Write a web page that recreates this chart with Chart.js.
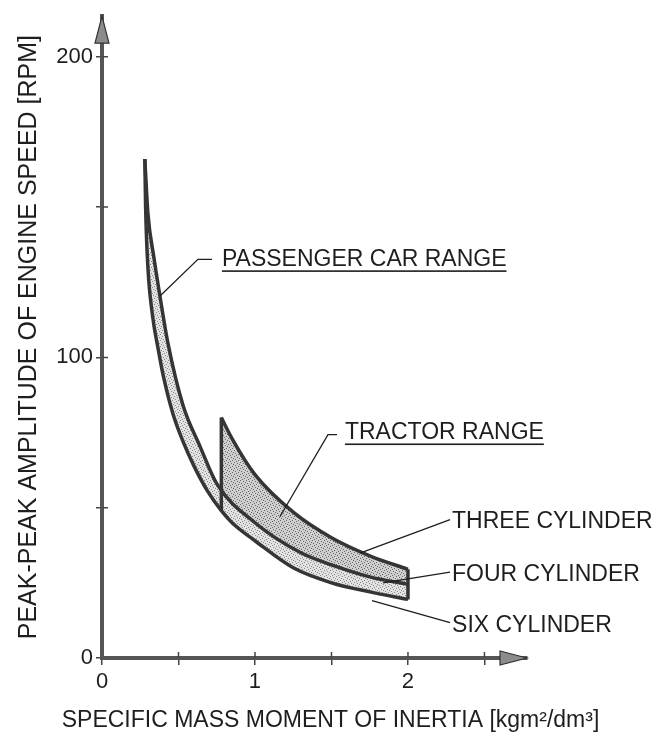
<!DOCTYPE html>
<html>
<head>
<meta charset="utf-8">
<script src="https://cdn.jsdelivr.net/npm/chart.js@4.4.1/dist/chart.umd.min.js"></script>
<style>
  html, body { margin: 0; padding: 0; background: #fff; }
</style>
</head>
<body>
<canvas id="inertiaChart" width="666" height="735"></canvas>
<script>
// upper edge of the passenger car band, runs on into the tractor band (four cylinder)
const fourCylX = [0.28, 0.30, 0.34, 0.38, 0.43, 0.53, 0.64, 0.75, 1.0, 1.3, 1.5, 1.75, 2.0];
const fourCylY = [166, 148, 133, 120, 105, 84, 70.5, 58, 45, 35, 31, 27, 24.5];

// lower edge of both bands (six cylinder)
const sixCylX = [0.28, 0.285, 0.30, 0.33, 0.37, 0.40, 0.465, 0.53, 0.60, 0.69, 0.78, 0.85, 1.0, 1.25, 1.5, 1.75, 2.0];
const sixCylY = [166, 150, 130, 114, 102, 94, 81, 72, 64, 55.5, 49, 45, 39, 30, 25, 22, 19.5];

// upper edge of the tractor band (three cylinder)
const threeCylX = [0.78, 0.85, 1.0, 1.25, 1.5, 1.75, 2.0];
const threeCylY = [80, 73, 61, 48.5, 40, 34, 29.5];

// axis ticks
const xTickLabels = [0, 1, 2];
const yTickLabels = [0, 100, 200];

// call-out texts with their anchor (data units) and leader lines
const labelText = ['PASSENGER CAR RANGE', 'TRACTOR RANGE', 'THREE CYLINDER', 'FOUR CYLINDER', 'SIX CYLINDER'];
const labelAt = [[0.784, 130.3], [1.588, 72.7], [2.288, 43.1], [2.288, 25.7], [2.288, 8.55]];
const underlined = [true, true, false, false, false];
const leaders = [
  [[0.379, 120.4], [0.627, 132.6], [0.719, 132.6]],
  [[1.163, 47.0], [1.477, 74.3], [1.536, 74.3]],
  [[1.686, 34.9], [2.275, 46.05]],
  [[1.837, 25.0], [2.0, 26.3], [2.275, 28.6]],
  [[1.765, 19.1], [2.275, 11.8]]
];

const pts = (xs, ys) => xs.map((v, i) => ({ x: v, y: ys[i] }));

// tractor band is closed at the bottom by the six cylinder curve
const tractorBottom = pts(sixCylX, sixCylY).filter(p => p.x >= threeCylX[0]);
const firstTop = { x: threeCylX[0], y: threeCylY[0] };
const lastTop = { x: threeCylX[threeCylX.length - 1], y: threeCylY[threeCylY.length - 1] };

const FONT = '"Liberation Sans", Arial, sans-serif';
const INK = '#1e1e1e';
const CURVE = '#353535';

// stippled screen for the shaded bands
function stipple(base, dot) {
  const c = document.createElement('canvas');
  c.width = 6;
  c.height = 6;
  const g = c.getContext('2d');
  g.fillStyle = base;
  g.fillRect(0, 0, 6, 6);
  g.fillStyle = dot;
  [[0, 0], [3, 1], [1, 3], [4, 4], [5, 2], [2, 5]].forEach(([a, b]) => g.fillRect(a, b, 1, 1));
  return g.createPattern(c, 'repeat');
}

const annotate = {
  id: 'annotate',
  afterDraw(chart) {
    const { ctx, chartArea: area, scales: { x, y } } = chart;
    const toPx = p => [x.getPixelForValue(p[0]), y.getPixelForValue(p[1])];
    ctx.save();

    // tick marks cross the axis lines, add the inner half
    ctx.strokeStyle = '#444';
    ctx.lineWidth = 1.5;
    ctx.beginPath();
    x.ticks.forEach(t => {
      if (t.value <= 0) return;
      const px = x.getPixelForValue(t.value);
      ctx.moveTo(px, area.bottom);
      ctx.lineTo(px, area.bottom - 6);
    });
    y.ticks.forEach(t => {
      if (t.value <= 0) return;
      const py = y.getPixelForValue(t.value);
      ctx.moveTo(area.left, py);
      ctx.lineTo(area.left + 6, py);
    });
    ctx.stroke();

    // arrow heads
    ctx.fillStyle = '#8c8c8c';
    ctx.strokeStyle = '#333';
    ctx.lineWidth = 1.2;
    ctx.beginPath();
    ctx.moveTo(area.left, area.top);
    ctx.lineTo(area.left - 7, area.top + 27);
    ctx.lineTo(area.left + 7, area.top + 27);
    ctx.closePath();
    ctx.fill();
    ctx.stroke();
    ctx.beginPath();
    ctx.moveTo(area.right, area.bottom);
    ctx.lineTo(area.right - 27, area.bottom - 7);
    ctx.lineTo(area.right - 27, area.bottom + 7);
    ctx.closePath();
    ctx.fill();
    ctx.stroke();

    // leader lines
    ctx.strokeStyle = INK;
    ctx.lineWidth = 1.3;
    leaders.forEach(line => {
      ctx.beginPath();
      line.forEach((p, i) => {
        const [px, py] = toPx(p);
        if (i) ctx.lineTo(px, py); else ctx.moveTo(px, py);
      });
      ctx.stroke();
    });

    // call-out texts
    ctx.font = '23px ' + FONT;
    ctx.fillStyle = INK;
    ctx.textAlign = 'left';
    ctx.textBaseline = 'alphabetic';
    labelText.forEach((t, i) => {
      const [px, py] = toPx(labelAt[i]);
      ctx.fillText(t, px, py);
      if (underlined[i]) {
        const w = ctx.measureText(t).width;
        ctx.fillRect(px, py + 4, w, 1.6);
      }
    });

    // x axis title
    ctx.textAlign = 'center';
    ctx.fillText('SPECIFIC MASS MOMENT OF INERTIA [kgm²/dm³]', (area.left + area.right) / 2 + 16, 727);

    ctx.restore();
  }
};

const ctx = document.getElementById('inertiaChart').getContext('2d');
const inertiaChart = new Chart(ctx, {
  type: 'line',
  data: {
    datasets: [
      {
        label: 'Four cylinder',
        data: pts(fourCylX, fourCylY),
        borderColor: CURVE,
        borderWidth: 3.5,
        backgroundColor: stipple('#e2e2e2', '#8a8a8a'),
        fill: 1,
        cubicInterpolationMode: 'monotone'
      },
      {
        label: 'Six cylinder',
        data: pts(sixCylX, sixCylY),
        borderColor: CURVE,
        borderWidth: 3.5,
        fill: false,
        cubicInterpolationMode: 'monotone'
      },
      {
        label: 'Three cylinder',
        data: pts(threeCylX, threeCylY),
        borderColor: CURVE,
        borderWidth: 3.5,
        backgroundColor: stipple('#cfcfcf', '#6a6a6a'),
        fill: 3,
        cubicInterpolationMode: 'monotone'
      },
      {
        label: 'Tractor bottom',
        data: tractorBottom,
        borderWidth: 0,
        fill: false,
        cubicInterpolationMode: 'monotone'
      },
      {
        label: 'Tractor left edge',
        data: [firstTop, tractorBottom[0]],
        borderColor: CURVE,
        borderWidth: 3.5,
        fill: false,
        tension: 0
      },
      {
        label: 'Tractor right edge',
        data: [lastTop, tractorBottom[tractorBottom.length - 1]],
        borderColor: CURVE,
        borderWidth: 3.5,
        fill: false,
        tension: 0
      }
    ]
  },
  options: {
    responsive: false,
    animation: false,
    layout: { padding: { top: 9, right: 139, left: 0, bottom: 0 } },
    elements: { point: { radius: 0 } },
    plugins: {
      legend: { display: false },
      tooltip: { enabled: false },
      filler: { drawTime: 'beforeDatasetsDraw' }
    },
    scales: {
      x: {
        type: 'linear',
        min: 0,
        max: 2.778,
        afterFit: s => { s.height = 77; },
        border: { color: '#555', width: 4 },
        grid: { drawOnChartArea: false, tickLength: 7, color: '#444', lineWidth: 1.5 },
        ticks: {
          stepSize: 0.5,
          includeBounds: false,
          autoSkip: false,
          maxRotation: 0,
          padding: 4,
          color: INK,
          font: { family: FONT, size: 22 },
          callback: v => xTickLabels.includes(v) ? String(v) : ''
        }
      },
      y: {
        min: 0,
        max: 213.5,
        afterFit: s => { s.width = 102; },
        border: { color: '#555', width: 4 },
        grid: { drawOnChartArea: false, tickLength: 6, color: '#444', lineWidth: 1.5 },
        ticks: {
          stepSize: 50,
          includeBounds: false,
          autoSkip: false,
          padding: 3,
          color: INK,
          font: { family: FONT, size: 22 },
          callback: v => yTickLabels.includes(v) ? String(v) : ''
        },
        title: {
          display: true,
          text: 'PEAK-PEAK AMPLITUDE OF ENGINE SPEED [RPM]',
          color: INK,
          font: { family: FONT, size: 25 },
          padding: { top: 14, bottom: 0 }
        }
      }
    }
  },
  plugins: [annotate]
});
</script>
</body>
</html>
